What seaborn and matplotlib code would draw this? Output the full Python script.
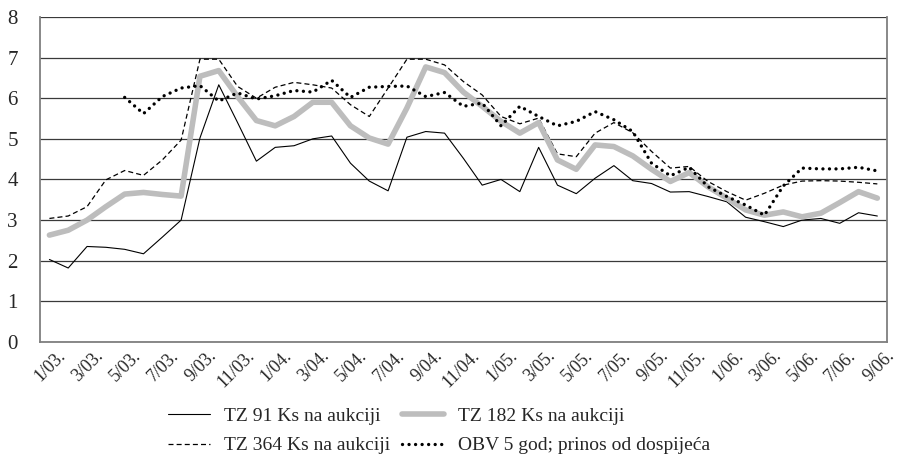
import matplotlib.pyplot as plt
import matplotlib.transforms as mtransforms
import numpy as np
import pandas as pd
import seaborn as sns

# monthly observations, 1/03. to 9/06.
months = [f"{m}/{y:02d}." for y in range(3, 7) for m in range(1, 13)][:45]
tick_labels = ["1/03.", "3/03.", "5/03.", "7/03.", "9/03.", "11/03.",
               "1/04.", "3/04.", "5/04.", "7/04.", "9/04.", "11/04.",
               "1/05.", "3/05.", "5/05.", "7/05.", "9/05.", "11/05.",
               "1/06.", "3/06.", "5/06.", "7/06.", "9/06."]

tz91 = [2.03, 1.82, 2.35, 2.33, 2.28, 2.17, 2.58, 3.0, 5.02, 6.33,
        5.4, 4.45, 4.79, 4.83, 5.0, 5.07, 4.4, 3.96, 3.72, 5.04,
        5.18, 5.14, 4.52, 3.86, 4.0, 3.7, 4.79, 3.86, 3.65, 4.03,
        4.34, 3.97, 3.9, 3.69, 3.7, 3.58, 3.45, 3.07, 2.96, 2.84,
        3.0, 3.04, 2.92, 3.18, 3.1]
tz182 = [2.63, 2.75, 3.0, 3.33, 3.64, 3.68, 3.63, 3.59, 6.54, 6.68,
         6.04, 5.45, 5.32, 5.55, 5.9, 5.9, 5.32, 5.02, 4.87, 5.76,
         6.77, 6.63, 6.15, 5.8, 5.43, 5.14, 5.4, 4.48, 4.25, 4.85,
         4.81, 4.58, 4.25, 3.95, 4.17, 3.82, 3.54, 3.25, 3.12, 3.2,
         3.08, 3.17, 3.43, 3.7, 3.54]
tz364 = [3.04, 3.1, 3.33, 3.99, 4.22, 4.1, 4.48, 4.97, 6.96, 6.96,
         6.29, 6.0, 6.27, 6.39, 6.33, 6.25, 5.84, 5.55, 6.25, 6.96,
         6.96, 6.82, 6.41, 6.08, 5.55, 5.37, 5.51, 4.63, 4.56, 5.14,
         5.4, 5.15, 4.69, 4.28, 4.32, 3.95, 3.7, 3.49, 3.66, 3.86,
         3.96, 3.97, 3.96, 3.93, 3.89]
# 5-year bond starts in 5/03.
obv5 = [np.nan, np.nan, np.nan, np.nan, 6.02, 5.62, 6.04, 6.25, 6.31, 5.93,
        6.13, 5.98, 6.06, 6.19, 6.15, 6.44, 6.02, 6.27, 6.29, 6.3,
        6.04, 6.14, 5.8, 5.88, 5.32, 5.8, 5.55, 5.32, 5.43, 5.67,
        5.47, 5.18, 4.4, 4.09, 4.3, 3.82, 3.58, 3.37, 3.12, 3.84,
        4.28, 4.26, 4.26, 4.3, 4.21]

df = pd.DataFrame({"month": months, "tz91": tz91, "tz182": tz182,
                   "tz364": tz364, "obv5": obv5})
df["x"] = np.arange(len(df))

sns.set_style("white")
plt.rcParams["font.family"] = ["Liberation Serif", "DejaVu Serif"]

fig = plt.figure(figsize=(9.03, 4.71), dpi=100)
ax = fig.add_axes([0.0443, 0.274, 0.9377, 0.69])

ax.set_axisbelow(True)
ax.grid(axis="y", color="#3a3a3a", linewidth=0.9)

sns.lineplot(data=df, x="x", y="tz91", ax=ax, color="black", linewidth=0.8,
             label="TZ 91 Ks na aukciji")
sns.lineplot(data=df, x="x", y="tz364", ax=ax, color="black", linewidth=0.9,
             linestyle=(0, (4, 2.5)), label="TZ 364 Ks na aukciji")
sns.lineplot(data=df, x="x", y="tz182", ax=ax, color="#bdbdbd", linewidth=4,
             label="TZ 182 Ks na aukciji")
obv = df.dropna(subset=["obv5"])
sns.lineplot(data=obv, x="x", y="obv5", ax=ax, color="black", linewidth=2.4,
             linestyle=(0, (0.01, 1.95)), dash_capstyle="round",
             label="OBV 5 god; prinos od dospijeća")

ax.set_xlim(-0.5, 44.5)
ax.set_ylim(0, 8)
ax.set_yticks(range(0, 9))
ax.set_xticks(np.arange(0, 45, 2))
ax.set_xticklabels(tick_labels, rotation=45, ha="right", rotation_mode="anchor")
ax.tick_params(axis="y", length=0, pad=16, labelsize=15)
ax.tick_params(axis="x", length=0, pad=4, labelsize=13)
ax.set_xlabel("")
ax.set_ylabel("")

# nudge the slanted month labels a little to the right
shift = mtransforms.ScaledTranslation(8 / 100, 0, fig.dpi_scale_trans)
for lbl in ax.get_xticklabels():
    lbl.set_transform(lbl.get_transform() + shift)

for side in ["left", "right", "bottom"]:
    ax.spines[side].set_color("#7f7f7f")
    ax.spines[side].set_linewidth(1.3)
ax.spines["top"].set_visible(False)

ax.legend(loc="upper center", bbox_to_anchor=(0.486, 0.172),
          bbox_transform=fig.transFigure, ncol=2, frameon=False,
          fontsize=14, handlelength=2.2, columnspacing=0.6,
          labelspacing=0.6, handletextpad=0.7)

fig.savefig("out.png", dpi=100)
